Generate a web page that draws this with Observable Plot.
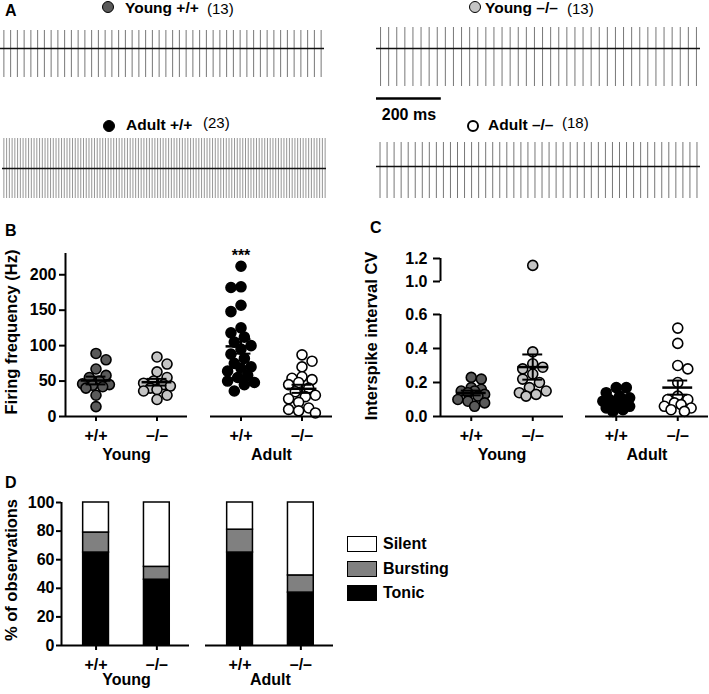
<!DOCTYPE html>
<html>
<head>
<meta charset="utf-8">
<script src="https://cdn.jsdelivr.net/npm/d3@7"></script>
<script src="https://cdn.jsdelivr.net/npm/@observablehq/plot@0.6"></script>
<style>
  body { margin: 0; background: #fff; }
  #fig { position: relative; width: 709px; height: 694px; overflow: hidden;
         font-family: "Liberation Sans", Arial, Helvetica, sans-serif; color: #000; background: #fff; }
  .t { position: absolute; white-space: nowrap; line-height: 1; transform: translateY(-50%); }
  .b { font-weight: bold; }
  .yl { position: absolute; white-space: nowrap; line-height: 1; font-weight: bold; font-size: 16.5px;
        transform: translate(-50%, -50%) rotate(-90deg); }
  .circ { position: absolute; border-radius: 50%; border: 1.5px solid #000; box-sizing: border-box; }
  .lbox { position: absolute; border: 1.5px solid #000; box-sizing: border-box; }
</style>
</head>
<body>
<div id="fig"></div>
<script>
// ---------------- DATA ----------------
const groups = ["Young", "Adult"];
const genotypes = ["+/+", "–/–"];
const cellCounts = [13, 13, 23, 18];           // Young +/+, Young –/–, Adult +/+, Adult –/–

// Panel A example traces (1 s each)
const traceDurationMs = 1000;
const spikeCounts = [48, 40, 118, 46];        // spikes in the 1 s trace
const spikeUp = [18, 21, 30, 24];             // spike height above baseline
const spikeDown = [29, 38, 30, 32];           // spike depth below baseline
const scaleBarMs = 200;

// Panel B firing frequency (Hz)
const freqYoungWT = [89, 80, 67, 58, 55, 50, 46, 45, 44, 42, 40, 30, 14];
const freqYoungKO = [84, 74, 63, 55, 50, 47, 45, 43, 40, 38, 36, 30, 24];
const freqAdultWT = [212, 183, 182, 157, 148, 125, 118, 112, 105, 100, 95, 88, 82, 75, 70, 68, 64, 58, 55, 50, 48, 45, 36];
const freqAdultKO = [87, 78, 70, 56, 54, 52, 48, 45, 40, 35, 30, 28, 25, 20, 12, 10, 8, 5];
const freqTicks = [0, 50, 100, 150, 200];
const freqMax = 230;

// Panel C interspike interval CV
const cvYoungWT = [0.23, 0.22, 0.17, 0.16, 0.15, 0.15, 0.14, 0.13, 0.12, 0.10, 0.09, 0.08, 0.06];
const cvYoungKO = [1.14, 0.38, 0.31, 0.29, 0.28, 0.25, 0.22, 0.20, 0.17, 0.15, 0.14, 0.13, 0.12];
const cvAdultWT = [0.17, 0.17, 0.14, 0.12, 0.11, 0.10, 0.09, 0.08, 0.07, 0.06, 0.05, 0.04, 0.03];
const cvAdultKO = [0.52, 0.43, 0.30, 0.28, 0.20, 0.12, 0.10, 0.10, 0.08, 0.07, 0.06, 0.05, 0.04, 0.03];
const cvTicks = [0, 0.2, 0.4, 0.6, 1.0, 1.2];
const cvSegments = [[0, 0.6], [1.0, 1.2]];    // broken axis

// Panel D % of observations (Young +/+, Young –/–, Adult +/+, Adult –/–)
const firingTypes = ["Tonic", "Bursting", "Silent"];
const pctTonic = [65, 46, 65, 37];
const pctBursting = [14, 9, 16, 12];
const pctSilent = [21, 45, 19, 51];
const pctTicks = [0, 20, 40, 60, 80, 100];

// ---------------- STYLE ----------------
const FONT = '"Liberation Sans", Arial, Helvetica, sans-serif';
const colFill = ["#5a5a5a", "#c4c4c4", "#000000", "#ffffff"];
const typeColors = ["#000000", "#808080", "#ffffff"];
const fig = document.getElementById("fig");
const plotStyle = {fontFamily: FONT, fontSize: "16px", fontWeight: "bold", color: "#000", background: "transparent", overflow: "visible"};

function put(el, left, top) {
  el.style.position = "absolute"; el.style.left = left + "px"; el.style.top = top + "px";
  fig.appendChild(el); return el;
}
function txt(s, left, cy, size, bold) {
  const d = document.createElement("div");
  d.className = "t" + (bold ? " b" : "");
  d.textContent = s; d.style.fontSize = size + "px";
  return put(d, left, cy);
}
function ylab(s, cx, cy) {
  const d = document.createElement("div"); d.className = "yl"; d.textContent = s;
  return put(d, cx, cy);
}
function circle(cx, cy, d, fill, bw) {
  const c = document.createElement("div"); c.className = "circ";
  c.style.width = d + "px"; c.style.height = d + "px"; c.style.background = fill;
  if (bw) c.style.borderWidth = bw + "px";
  return put(c, cx - d / 2, cy - d / 2);
}
function facetWidth(width, ml, mr, pad) {
  const W = width - ml - mr; const step = W / (2 - pad); return step * (1 - pad);
}
function swarm(values, ypx, r, maxOff) {
  const pts = values.map(v => ({v, py: ypx(v), off: 0}));
  const order = pts.slice().sort((a, b) => a.py - b.py);
  const placed = [];
  const minD = 1.75 * r, step = r * 0.6;
  order.forEach((p, j) => {
    const cands = [0];
    const s = j % 2 ? 1 : -1;
    for (let k = 1; k * step <= maxOff; k++) cands.push(s * k * step, -s * k * step);
    let best = 0, bestD = -1;
    for (const off of cands) {
      let d = Infinity;
      for (const q of placed) d = Math.min(d, Math.hypot(q.off - off, q.py - p.py));
      if (d >= minD) { best = off; bestD = d; break; }
      if (d > bestD) { bestD = d; best = off; }
    }
    p.off = best; placed.push(p);
  });
  return pts;
}

// ---------------- PANEL A ----------------
const traceLabels = groups.flatMap(g => genotypes.map(k => g + " " + k));
const tracePos = [[0, 30], [376, 27], [2, 138], [376, 142]];
traceLabels.forEach((lab, i) => {
  const up = spikeUp[i], down = spikeDown[i], n = spikeCounts[i];
  const times = d3.range(n).map(k => (k + 0.5) * traceDurationMs / n);
  const svg = Plot.plot({
    width: 330, height: up + down, margin: 0, marginRight: 6,
    x: {domain: [0, traceDurationMs], axis: null},
    y: {domain: [-down, up], axis: null},
    style: {background: "transparent"},
    marks: [
      Plot.ruleX(times, {x: d => d, y1: -down, y2: up, stroke: i === 2 ? "#8a8a8a" : "#777", strokeWidth: i === 2 ? 0.9 : 1}),
      Plot.ruleY([{y: 0, x1: 0, x2: traceDurationMs}], {y: "y", x1: "x1", x2: "x2", stroke: "#111", strokeWidth: 1.7})
    ]
  });
  put(svg, tracePos[i][0], tracePos[i][1]);
});
// scale bar (same time scale as the traces)
put(Plot.plot({
  width: 330, height: 34, margin: 0, marginRight: 6,
  x: {domain: [0, traceDurationMs], axis: null},
  y: {domain: [0, 1], range: [8, 30], axis: null},
  style: plotStyle,
  marks: [
    Plot.ruleY([{y: 0, x1: 0, x2: scaleBarMs}], {y: "y", x1: "x1", x2: "x2", stroke: "#000", strokeWidth: 2.5}),
    Plot.text([{x: scaleBarMs / 2, y: 0, t: scaleBarMs + " ms"}], {x: "x", y: "y", text: "t", dy: 16, fontSize: 16, fontWeight: "bold"})
  ]
}), 376, 90);

// trace labels
txt("A", 5, 11, 16, true);
const labCirc = [[107.5, 7], [474.5, 7], [108.5, 126], [473, 126]];
const labText = [[125, 8], [485, 8], [126, 125], [488, 125]];
const labN = [[207, 8], [567, 8], [203, 122], [562, 122]];
traceLabels.forEach((lab, i) => {
  circle(labCirc[i][0], labCirc[i][1], 12, colFill[i], i === 3 ? 2 : 1.5);
  txt(lab, labText[i][0], labText[i][1], 15.5, true);
  txt("(" + cellCounts[i] + ")", labN[i][0], labN[i][1], 15, false);
});

// ---------------- PANELS B & C ----------------
// tf maps a data value to axis units (identity, or a broken-axis mapping)
function scatterPanel(cfg) {
  const {width, height, ml, mr, mt, mb, pad, tf, yMax, ticks, fmt, tickSize, tickPadding,
         cols, segments, starIdx} = cfg;
  const FW = facetWidth(width, ml, mr, pad);
  const slots = [FW * 0.25, FW * 0.75];
  const yRange = [height - mb, mt];
  const ypx = d3.scaleLinear([0, tf(yMax)], yRange);
  const pts = [], stats = [];
  cols.forEach((vals, i) => {
    const group = groups[Math.floor(i / 2)], gi = i % 2;
    swarm(vals, v => ypx(tf(v)), 5.6, 14).forEach(p =>
      pts.push({group, y: tf(p.v), x: slots[gi] + p.off, fill: colFill[i]}));
    const m = d3.mean(vals), s = d3.deviation(vals) / Math.sqrt(vals.length);
    stats.push({group, x: slots[gi], mean: tf(m), lo: tf(m - s), hi: tf(m + s), max: tf(d3.max(vals)), i});
  });
  const axisSegs = segments.map(([a, b]) => ({g: groups[0], x: 0, y1: tf(a), y2: tf(b)}));
  const tickPos = ticks.map(tf);
  const tickLab = new Map(ticks.map(t => [tf(t), fmt(t)]));
  return Plot.plot({
    width, height, marginLeft: ml, marginRight: mr, marginTop: mt, marginBottom: mb,
    fx: {domain: groups, paddingInner: pad, paddingOuter: 0, axis: null},
    x: {domain: [0, FW]},
    y: {domain: [0, tf(yMax)]},
    color: {type: "identity"},
    style: plotStyle,
    marks: [
      Plot.dot(pts, {fx: "group", x: "x", y: "y", r: 5, fill: "fill", stroke: "#000", strokeWidth: 1.6}),
      Plot.ruleY(stats, {fx: "group", y: "mean", x1: d => d.x - 15, x2: d => d.x + 15, strokeWidth: 2.5}),
      Plot.ruleX(stats, {fx: "group", x: "x", y1: "lo", y2: "hi", strokeWidth: 2}),
      Plot.ruleY(stats, {fx: "group", y: "hi", x1: d => d.x - 10, x2: d => d.x + 10, strokeWidth: 2}),
      Plot.ruleY(stats, {fx: "group", y: "lo", x1: d => d.x - 10, x2: d => d.x + 10, strokeWidth: 2}),
      Plot.text(stats.filter(d => d.i === starIdx), {fx: "group", x: "x", y: "max", text: () => "***", dy: -10, fontSize: 16, fontWeight: "bold"}),
      Plot.ruleY(groups.map(g => ({g, y: 0})), {fx: "g", y: "y", strokeWidth: 2}),
      Plot.ruleX(axisSegs, {fx: "g", x: "x", y1: "y1", y2: "y2", strokeWidth: 2}),
      Plot.axisY({ticks: tickPos, tickFormat: d => tickLab.get(d), tickSize, tickPadding, fontSize: 16, fontWeight: "bold", strokeWidth: 2, label: null, facetAnchor: "left"}),
      Plot.axisX({ticks: slots, tickFormat: d => d < FW / 2 ? genotypes[0] : genotypes[1], tickSize: 5, tickPadding: 8,
                  fontSize: 16, fontWeight: "bold", strokeWidth: 2, label: null}),
      Plot.text(groups.map(g => ({g})), {fx: "g", x: () => (slots[0] + slots[1]) / 2, frameAnchor: "bottom", dy: 43, text: "g", fontSize: 16, fontWeight: "bold"})
    ]
  });
}

// Panel B
put(scatterPanel({
  width: 348, height: 230, ml: 65, mr: 15, mt: 13, mb: 54, pad: 0.158,
  tf: v => v, yMax: freqMax,
  ticks: freqTicks, fmt: d3.format("d"), tickSize: 6, tickPadding: 3,
  cols: [freqYoungWT, freqYoungKO, freqAdultWT, freqAdultKO],
  segments: [[0, freqMax]], starIdx: 2
}), 0, 240);
txt("B", 5, 231, 16, true);
ylab("Firing frequency (Hz)", 11, 332);

// Panel C — broken axis: 0–0.6 full scale, gap, 1.0–1.2 compressed
const brokenAxis = v => {
  const [[a0, a1], [b0, b1]] = cvSegments;
  const gap = 0.194, upper = 0.676;
  if (v <= a1) return v;
  if (v >= b0) return a1 + gap + (v - b0) * upper;
  return a1 + (v - a1) / (b0 - a1) * gap;
};
put(scatterPanel({
  width: 349, height: 230, ml: 80, mr: 0, mt: 18, mb: 54, pad: 0.151,
  tf: brokenAxis, yMax: cvSegments[1][1],
  ticks: cvTicks, fmt: d3.format(".1f"), tickSize: 7, tickPadding: 6,
  cols: [cvYoungWT, cvYoungKO, cvAdultWT, cvAdultKO],
  segments: cvSegments, starIdx: -1
}), 360, 240);
txt("C", 370, 228, 16, true);
ylab("Interspike interval CV", 371, 336);

// ---------------- PANEL D ----------------
const dW = 344, dML = 60, dMR = 10, dPad = 0.11;
const FWd = facetWidth(dW, dML, dMR, dPad);
const dSlots = [FWd * 0.27, FWd * 0.745];
const barW = 26;
const pctByType = [pctTonic, pctBursting, pctSilent];
const rows = [];
groups.forEach((group, gi) => genotypes.forEach((gt, ki) => {
  const idx = gi * 2 + ki;
  firingTypes.forEach((type, ti) => rows.push({
    group, type, value: pctByType[ti][idx], x1: dSlots[ki] - barW / 2, x2: dSlots[ki] + barW / 2
  }));
}));
put(Plot.plot({
  width: dW, height: 204, marginLeft: dML, marginRight: dMR, marginTop: 12, marginBottom: 49,
  fx: {domain: groups, paddingInner: dPad, paddingOuter: 0, axis: null},
  x: {domain: [0, FWd]},
  y: {domain: [0, 100]},
  color: {domain: firingTypes, range: typeColors},
  style: plotStyle,
  marks: [
    Plot.rectY(rows, {fx: "group", x1: "x1", x2: "x2", y: "value", fill: "type", stroke: "#000", strokeWidth: 1.5}),
    Plot.ruleY(groups.map(g => ({g, y: 0})), {fx: "g", y: "y", strokeWidth: 2}),
    Plot.ruleX([{g: groups[0], x: 0, y1: 0, y2: 100}], {fx: "g", x: "x", y1: "y1", y2: "y2", strokeWidth: 2}),
    Plot.axisY({ticks: pctTicks, tickSize: 5, tickPadding: 2, fontSize: 16, fontWeight: "bold", strokeWidth: 2, label: null, facetAnchor: "left"}),
    Plot.axisX({ticks: dSlots, tickFormat: d => d < FWd / 2 ? genotypes[0] : genotypes[1], tickSize: 5, tickPadding: 8,
                fontSize: 16, fontWeight: "bold", strokeWidth: 2, label: null}),
    Plot.text(groups.map(g => ({g})), {fx: "g", x: () => (dSlots[0] + dSlots[1]) / 2, frameAnchor: "bottom", dy: 39, text: "g", fontSize: 16, fontWeight: "bold"})
  ]
}), 0, 490);
txt("D", 5, 483, 16, true);
ylab("% of observations", 11, 570);

// legend (top to bottom: Silent, Bursting, Tonic)
const legendOrder = firingTypes.slice().reverse();
const legendY = [544, 569, 593];
legendOrder.forEach((type, j) => {
  const b = document.createElement("div"); b.className = "lbox";
  b.style.width = "30px"; b.style.height = "16px";
  b.style.background = typeColors[firingTypes.indexOf(type)];
  put(b, 347, legendY[j] - 8);
  txt(type, 383, legendY[j], 16, true);
});
</script>
</body>
</html>
